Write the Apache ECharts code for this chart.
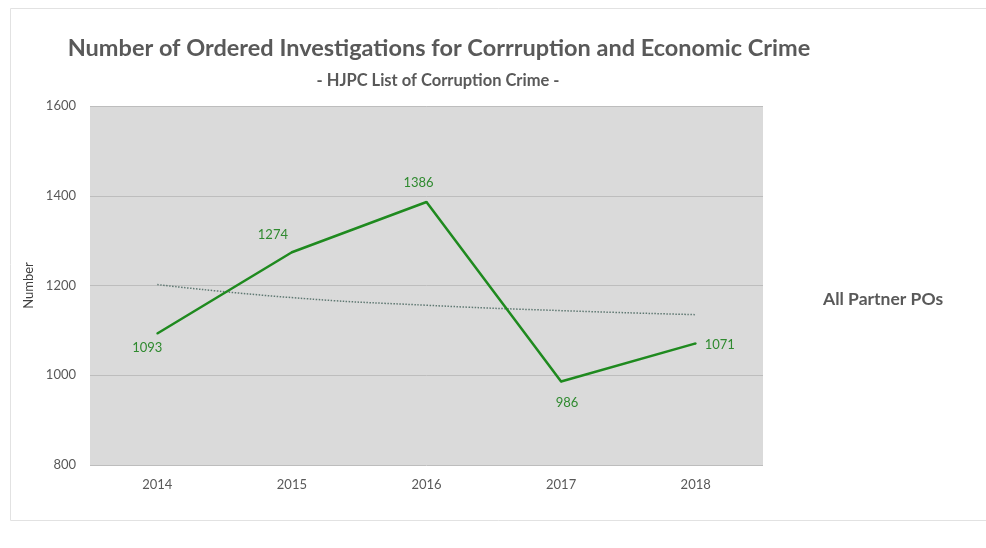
<!DOCTYPE html>
<html>
<head>
<meta charset="utf-8">
<script src="https://cdn.jsdelivr.net/npm/echarts@6/dist/echarts.min.js"></script>
<style>
  html, body { margin: 0; padding: 0; background: #ffffff; }
  #chart { width: 986px; height: 548px; }
</style>
</head>
<body>
<div id="chart"></div>
<script>
// Years on the horizontal axis
const years = ['2014', '2015', '2016', '2017', '2018'];
// Ordered investigations per year
const investigations = [1093, 1274, 1386, 986, 1071];
// Logarithmic trend line values per year
const trend = [1202, 1173, 1156, 1144, 1135];
// Value axis ticks
const yTicks = [800, 1000, 1200, 1400, 1600];

const seriesName = 'All Partner POs';
const FONT = 'Lato, "Open Sans", sans-serif';
const TEXT = '#595959';
const GREEN = '#1f8a1f';

// Label placement around each point
const labelPos = ['bottom', 'top', 'top', 'bottom', 'right'];
const labelOffset = [[-10, -1], [-19, -2], [-8, -4], [6, 6], [0, 1]];

const chart = echarts.init(document.getElementById('chart'));
chart.setOption({
  backgroundColor: '#ffffff',
  animation: false,
  textStyle: { fontFamily: FONT },
  title: [
    {
      text: 'Number of Ordered Investigations for Corrruption and Economic Crime',
      left: 434, top: 31, textAlign: 'center',
      textStyle: { fontFamily: FONT, fontSize: 23.5, fontWeight: 'bold', color: TEXT }
    },
    {
      text: '- HJPC List of Corruption Crime -',
      left: 433, top: 67, textAlign: 'center',
      textStyle: { fontFamily: FONT, fontSize: 16.5, fontWeight: 'bold', color: TEXT }
    }
  ],
  legend: {
    data: [{ name: seriesName }],
    left: 812, top: 285,
    itemWidth: 0, itemHeight: 0, itemGap: 0,
    textStyle: { fontFamily: FONT, fontSize: 17.5, fontWeight: 'bold', color: TEXT },
    selectedMode: false
  },
  graphic: [
    {
      type: 'rect', silent: true, z: -10,
      shape: { x: 10.5, y: 8.5, width: 990, height: 512 },
      style: { fill: 'none', stroke: '#e2e2e2', lineWidth: 1 }
    }
  ],
  grid: { left: 90, top: 106, width: 673, height: 359, backgroundColor: '#dadada', show: true, borderWidth: 0 },
  xAxis: {
    type: 'category',
    data: years,
    boundaryGap: true,
    axisLine: { show: false },
    axisTick: { show: false },
    axisLabel: { color: TEXT, fontSize: 13, fontFamily: FONT, margin: 13 }
  },
  yAxis: {
    type: 'value',
    min: yTicks[0], max: yTicks[yTicks.length - 1], interval: 200,
    name: 'Number',
    nameLocation: 'middle',
    nameGap: 51,
    nameTextStyle: { color: '#404040', fontSize: 13, fontFamily: FONT },
    axisLine: { show: false },
    axisTick: { show: false },
    axisLabel: { color: TEXT, fontSize: 13, fontFamily: FONT, margin: 14, formatter: v => String(v) },
    splitLine: { show: true, lineStyle: { color: '#bdbdbd', width: 1 } }
  },
  series: [
    {
      name: seriesName,
      type: 'line',
      data: investigations.map((v, i) => ({
        value: v,
        label: { show: true, position: labelPos[i], offset: labelOffset[i] }
      })),
      symbol: 'circle',
      symbolSize: 2,
      showSymbol: true,
      lineStyle: { color: GREEN, width: 2.5 },
      itemStyle: { color: GREEN },
      label: { show: true, color: '#2f8a2f', fontSize: 13, fontFamily: FONT, distance: 8 },
      z: 3
    },
    {
      name: 'trend',
      type: 'line',
      data: trend,
      smooth: true,
      symbol: 'none',
      lineStyle: { color: '#5f7872', width: 1.5, type: 'dotted' },
      z: 2
    }
  ]
});
</script>
</body>
</html>
